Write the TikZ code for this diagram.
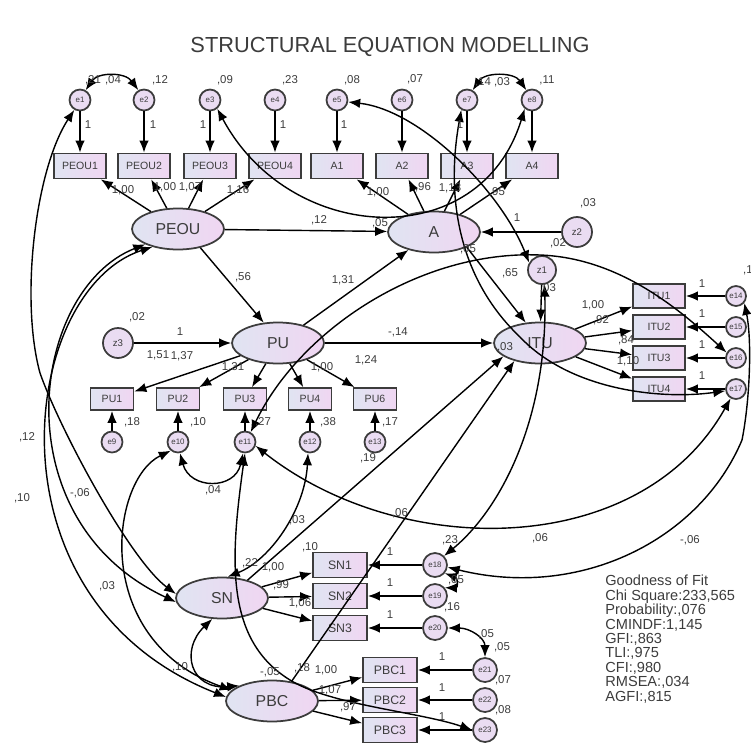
\documentclass[tikz,border=0pt]{standalone}
\usepackage{fontspec}
\setmainfont{Liberation Sans}
\usetikzlibrary{arrows.meta,shapes.geometric}
\definecolor{lav1}{RGB}{224,228,242}
\definecolor{lav2}{RGB}{240,214,242}
\definecolor{ink}{RGB}{60,60,60}
\tikzset{
  obs/.style={draw=ink,line width=1pt,minimum width=1.04cm,minimum height=0.5cm,inner sep=0pt,
    left color=lav1,right color=lav2,text=ink,font=\fontsize{6}{6}\selectfont},
  pubox/.style={minimum width=0.86cm,minimum height=0.44cm},
  snbox/.style={minimum width=1.08cm,minimum height=0.5cm,font=\fontsize{7}{7}\selectfont},
  lat/.style={ellipse,draw=ink,line width=1pt,minimum width=1.84cm,minimum height=0.82cm,inner sep=0pt,
    left color=lav1,right color=lav2,text=ink,font=\fontsize{9}{9}\selectfont},
  err/.style={circle,draw=ink,line width=1pt,minimum size=0.42cm,inner sep=0pt,
    fill=lav2!60!lav1,text=ink,font=\fontsize{4.5}{4.5}\selectfont},
  dis/.style={err,minimum size=0.6cm,font=\fontsize{5.5}{5.5}\selectfont},
  lbl/.style={text=ink,font=\fontsize{6.5}{6.5}\selectfont,inner sep=0pt},
  pth/.style={draw=black,line width=0.8pt,-{Latex[length=2.4mm,width=1.9mm]}},
  cov/.style={draw=black,line width=0.8pt,{Latex[length=2.4mm,width=1.9mm]}-{Latex[length=2.4mm,width=1.9mm]}},
}
\begin{document}
\begin{tikzpicture}[x=0.02cm,y=-0.02cm]
\useasboundingbox (0,0) rectangle (751,744);
\node[text=ink,font=\fontsize{12.4}{12.4}\selectfont] (title) at (390,47) {STRUCTURAL EQUATION MODELLING};

% latent variables
\node[lat] (PEOU) at (178,229) {PEOU};
\node[lat] (A) at (434,232) {A};
\node[lat] (PU) at (278,343) {PU};
\node[lat] (ITU) at (540,343) {ITU};
\node[lat] (SN) at (222,598) {SN};
\node[lat] (PBC) at (272,701) {PBC};
\node[dis,minimum size=0.56cm] (z1) at (542,270) {z1};
\node[dis] (z2) at (577,232) {z2};
\node[dis] (z3) at (118,343) {z3};

% indicators with their errors
\foreach \n/\x in {1/80,2/144,3/210,4/275}{
  \node[err] (e\n) at (\x,100) {e\n};
  \node[obs] (PEOU\n) at (\x,166) {PEOU\n};
  \draw[pth] (e\n) -- (PEOU\n);
  \draw[pth] (PEOU) -- (PEOU\n);
}
\foreach \n/\m/\x in {1/5/337,2/6/402,3/7/467,4/8/532}{
  \node[err] (e\m) at (\x,100) {e\m};
  \node[obs] (A\n) at (\x,166) {A\n};
  \draw[pth] (e\m) -- (A\n);
  \draw[pth] (A) -- (A\n);
}
\foreach \n/\m/\x in {1/9/112,2/10/178,3/11/245,4/12/310,6/13/375}{
  \node[obs,pubox] (PU\n) at (\x,399) {PU\n};
  \node[err] (e\m) at (\x,442) {e\m};
  \draw[pth] (e\m) -- (PU\n);
  \draw[pth] (PU) -- (PU\n);
}
\foreach \n/\m/\y in {1/14/296,2/15/327,3/16/358,4/17/389}{
  \node[obs,minimum height=0.48cm] (ITU\n) at (659,\y) {ITU\n};
  \node[err,minimum size=0.4cm] (e\m) at (736,\y) {e\m};
  \draw[pth] (e\m) -- (ITU\n);
  \draw[pth] (ITU) -- (ITU\n);
}
\foreach \n/\m/\y in {1/18/565,2/19/596,3/20/628}{
  \node[obs,snbox] (SN\n) at (340,\y) {SN\n};
  \node[err,minimum size=0.48cm] (e\m) at (435,\y) {e\m};
  \draw[pth] (e\m) -- (SN\n);
  \draw[pth] (SN) -- (SN\n);
}
\foreach \n/\m/\y in {1/21/670,2/22/700,3/23/730}{
  \node[obs,snbox] (PBC\n) at (390,\y) {PBC\n};
  \node[err,minimum size=0.48cm] (e\m) at (485,\y) {e\m};
  \draw[pth] (e\m) -- (PBC\n);
  \draw[pth] (PBC) -- (PBC\n);
}

% structural paths
\draw[pth] (PEOU) -- (A);
\draw[pth] (PEOU.-40) -- (PU.125);
\draw[pth] (z3) -- (PU);
\draw[pth] (z2) -- (A);
\draw[pth] (PU.35) -- (A.215);
\draw[pth] (PU) -- (ITU);
\draw[pth] (z1) -- (ITU);
\draw[pth] (A.-25) -- (ITU.125);
\draw[pth] (SN.35) -- (ITU.200);
\draw[pth] (PBC.45) -- (ITU.215);

% covariances
\draw[cov] (e1.60) .. controls (98,72) and (125,72) .. (e2.120);
\draw[cov] (e7.60) .. controls (485,72) and (514,72) .. (e8.120);
\draw[cov] (e3.-50) .. controls (290,245) and (480,255) .. (e8.-130);
\draw[cov] (e5.-10) .. controls (420,110) and (500,190) .. (z1.150);
\draw[cov] (e7.-120) .. controls (445,200) and (460,280) .. (520,337) .. controls (570,390) and (660,400) .. (e17.190);
\draw[cov] (e11.60) .. controls (300,330) and (420,250) .. (540,255) .. controls (620,258) and (680,310) .. (e16.150);
\draw[cov] (z1.-80) .. controls (548,420) and (500,510) .. (e18.45);
\draw[cov] (e11.-20) .. controls (400,560) and (640,560) .. (e17.-120);
\draw[cov] (e18.-10) .. controls (580,600) and (700,540) .. (742,440) .. controls (750,400) and (752,340) .. (e14.-40);
\draw[cov] (e1.-120) .. controls (35,170) and (20,300) .. (40,373) .. controls (60,430) and (130,560) .. (SN.175);
\draw[cov] (PEOU.205) .. controls (30,290) and (0,520) .. (SN.185);
\draw[cov] (PEOU.215) .. controls (20,290) and (-20,600) .. (PBC.175);
\draw[cov] (e10.-130) .. controls (110,480) and (90,640) .. (PBC.165);
\draw[cov] (e10.-80) .. controls (190,490) and (235,490) .. (e11.-100);
\draw[cov] (e12.-100) .. controls (305,510) and (270,560) .. (SN.75);
\draw[cov] (e11.-90) .. controls (230,560) and (225,640) .. (290,680) .. controls (330,705) and (420,712) .. (e23.180);
\draw[cov] (SN.245) .. controls (180,650) and (190,690) .. (PBC.155);
\draw[cov] (e18.-40) .. controls (458,578) and (458,588) .. (e19.40);
\draw[cov] (e20.0) .. controls (470,628) and (485,638) .. (e21.90);

% estimates
\foreach \t/\x/\y [count=\i] in {{,21}/93/80,{,04}/113/80,{,12}/160/80,{,09}/225/80,{,23}/290/80,
  {,08}/352/80,{,07}/415/79,{,14}/483/82,{,03}/502/82,{,11}/547/80,
  1/88/125,1/153/125,1/203/125,1/283/125,1/344/125,1/460/125,
  {1,00}/123/190,{1,00}/165/187,{1,07}/190/187,{1,16}/238/190,{,12}/319/220,{,05}/380/223,
  {1,00}/378/192,{,96}/423/187,{1,13}/450/188,{,95}/497/192,
  1/517/218,{,03}/588/203,{,02}/558/243,{,05}/468/249,
  {,56}/243/277,{1,31}/343/280,{,02}/137/317,1/180/332,{-,14}/398/332,
  {,65}/510/273,{,03}/548/288,{,03}/505/347,
  {1,51}/158/355,{1,37}/182/356,{1,31}/233/367,{1,00}/322/367,{1,24}/366/360,
  {,18}/132/422,{,10}/198/422,{,27}/263/422,{,38}/328/422,{,17}/390/422,{,19}/368/458,
  {1,00}/593/305,{,92}/601/320,{,84}/626/340,{1,10}/628/361,
  1/702/284,1/702/314,1/702/345,1/702/376,{,1}/748/270,
  {,12}/27/437,{,10}/22/498,{-,06}/80/493,{,03}/107/586,{,04}/213/490,
  {,03}/297/520,{,06}/400/513,{,06}/540/538,{-,06}/690/540,{,23}/450/540,
  {,22}/250/563,{,10}/310/547,{1,00}/273/567,{,99}/281/585,{1,06}/300/603,
  1/390/552,1/390/583,1/390/615,{,05}/456/580,{,16}/452/607,{,05}/486/634,{,05}/502/647,
  {,10}/180/667,{-,05}/270/672,{,18}/302/668,{1,00}/326/670,{1,07}/330/690,{,97}/348/707,
  1/442/657,1/442/688,1/442/717,{,07}/503/680,{,08}/503/710}
  \node[lbl] (v\i) at (\x,\y) {\t};

% fit indices
\node[anchor=north west,align=left,inner sep=0pt,text=ink,font=\fontsize{8.3}{8.2}\selectfont] (fit) at (605,575)
  {Goodness of Fit\\Chi Square:233,565\\Probability:,076\\CMINDF:1,145\\GFI:,863\\TLI:,975\\CFI:,980\\RMSEA:,034\\AGFI:,815};
\end{tikzpicture}
\end{document}
